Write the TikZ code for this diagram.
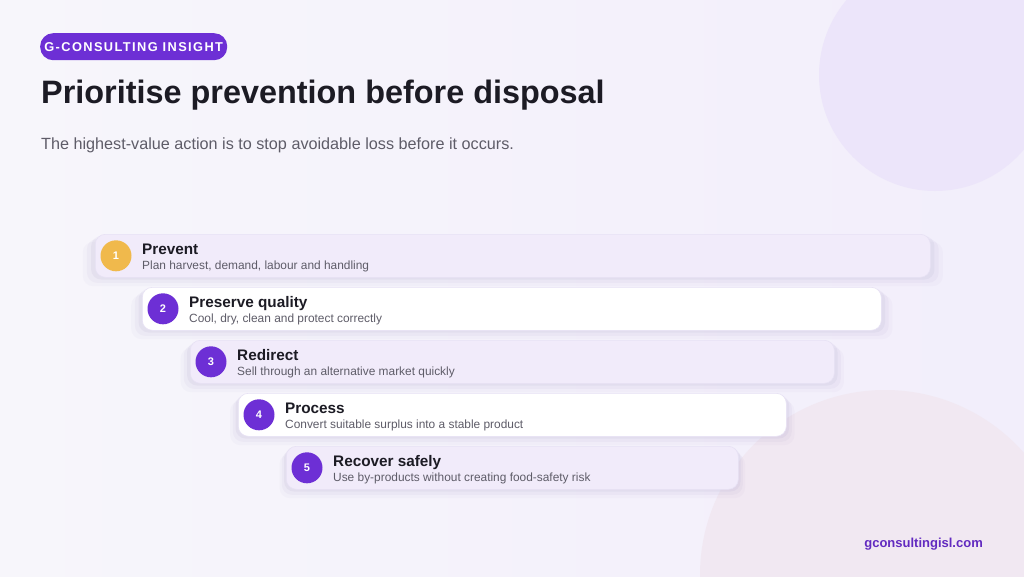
\documentclass[tikz,border=0pt]{standalone}
\usepackage{fontspec}
\setmainfont{Liberation Sans}
\newfontfamily\badgefont[LetterSpace=11]{Liberation Sans}
\usetikzlibrary{positioning,shadows}
\definecolor{gpurple}{HTML}{6D2FD5}
\definecolor{gyellow}{HTML}{F0B94C}
\definecolor{gink}{HTML}{1C1B24}
\definecolor{ggrey}{HTML}{5E5C68}
\definecolor{glav}{HTML}{F1EBFA}
\definecolor{gline}{HTML}{E7E1F4}
\definecolor{gbgleft}{HTML}{F7F6FB}
\definecolor{gbgright}{HTML}{F2EEFB}
\definecolor{gblob}{HTML}{ECE5FA}
\definecolor{gpink}{HTML}{F1E8F2}
\definecolor{gshade}{HTML}{8E80B8}

\begin{document}
\begin{tikzpicture}[x=1pt,y=-1pt,
    stepcard/.style={draw=gline,line width=0.6pt,rounded corners=10pt,
      minimum height=43pt,anchor=north west,inner sep=0pt,
      drop shadow={shadow xshift=0pt,shadow yshift=-2pt,shadow scale=1.01,fill=gshade,opacity=0.08},
      drop shadow={shadow xshift=0pt,shadow yshift=-5pt,shadow scale=1.02,fill=gshade,opacity=0.06},
      drop shadow={shadow xshift=0pt,shadow yshift=-8pt,shadow scale=1.03,fill=gshade,opacity=0.04}},
    numdot/.style={circle,minimum size=31pt,inner sep=0pt,text=white,
      font=\fontsize{11}{13}\selectfont\bfseries},
    steptitle/.style={anchor=base west,inner sep=0pt,text=gink,
      font=\fontsize{15.3}{18}\selectfont\bfseries},
    stepnote/.style={anchor=base west,inner sep=0pt,text=ggrey,
      font=\fontsize{11.9}{14}\selectfont}]
  \useasboundingbox (0,0) rectangle (1024,576);
  % background
  \begin{scope}
    \clip (0,0) rectangle (1024,576);
    \shade[left color=gbgleft,right color=gbgright] (0,0) rectangle (1024,576);
    \fill[gblob] (935,75) circle (116);
    \fill[gpink] (885,575) circle (185);
  \end{scope}

  % heading
  \node[fill=gpurple,rounded corners=13pt,minimum width=187pt,minimum height=27pt,
    anchor=north west,inner sep=0pt,text=white,
    font=\badgefont\fontsize{12.8}{14}\selectfont\bfseries] (badge) at (40,33)
    {G-CONSULTING INSIGHT};
  \node[anchor=base west,inner sep=0pt,text=gink,
    font=\fontsize{32.4}{36}\selectfont\bfseries] (title) at (41,103)
    {Prioritise prevention before disposal};
  \node[anchor=base west,inner sep=0pt,text=ggrey,
    font=\fontsize{16.2}{19}\selectfont] (lead) at (41,149)
    {The highest-value action is to stop avoidable loss before it occurs.};

  % steps
  \node[stepcard,fill=glav,minimum width=835pt] (prevent) at (95,234) {};
  \node[numdot,fill=gyellow] (n1) at ([xshift=21pt]prevent.west) {1};
  \node[steptitle] (t1) at ([xshift=47pt,yshift=-20pt]prevent.north west) {Prevent};
  \node[stepnote] (s1) at ([xshift=47pt,yshift=-35.5pt]prevent.north west)
    {Plan harvest, demand, labour and handling};

  \node[stepcard,fill=white,minimum width=739pt] (preserve) at (142,287) {};
  \node[numdot,fill=gpurple] (n2) at ([xshift=21pt]preserve.west) {2};
  \node[steptitle] (t2) at ([xshift=47pt,yshift=-20pt]preserve.north west) {Preserve quality};
  \node[stepnote] (s2) at ([xshift=47pt,yshift=-35.5pt]preserve.north west)
    {Cool, dry, clean and protect correctly};

  \node[stepcard,fill=glav,minimum width=644pt] (redirect) at (190,340) {};
  \node[numdot,fill=gpurple] (n3) at ([xshift=21pt]redirect.west) {3};
  \node[steptitle] (t3) at ([xshift=47pt,yshift=-20pt]redirect.north west) {Redirect};
  \node[stepnote] (s3) at ([xshift=47pt,yshift=-35.5pt]redirect.north west)
    {Sell through an alternative market quickly};

  \node[stepcard,fill=white,minimum width=548pt] (process) at (238,393) {};
  \node[numdot,fill=gpurple] (n4) at ([xshift=21pt]process.west) {4};
  \node[steptitle] (t4) at ([xshift=47pt,yshift=-20pt]process.north west) {Process};
  \node[stepnote] (s4) at ([xshift=47pt,yshift=-35.5pt]process.north west)
    {Convert suitable surplus into a stable product};

  \node[stepcard,fill=glav,minimum width=452pt] (recover) at (286,446) {};
  \node[numdot,fill=gpurple] (n5) at ([xshift=21pt]recover.west) {5};
  \node[steptitle] (t5) at ([xshift=47pt,yshift=-20pt]recover.north west) {Recover safely};
  \node[stepnote] (s5) at ([xshift=47pt,yshift=-35.5pt]recover.north west)
    {Use by-products without creating food-safety risk};

  % footer
  \node[anchor=base east,inner sep=0pt,text=gpurple!90!black,
    font=\fontsize{13}{15}\selectfont\bfseries] (site) at (983,547) {gconsultingisl.com};
\end{tikzpicture}
\end{document}
